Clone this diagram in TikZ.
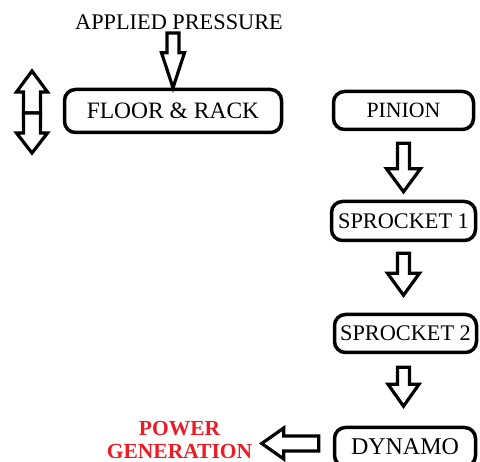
\documentclass[tikz,border=0pt]{standalone}
\usepackage{fontspec}
\setmainfont{Liberation Serif}
\usetikzlibrary{calc}
\definecolor{pwred}{RGB}{237,28,36}
\newcommand\blockarrow[5]{%
  \coordinate (ba) at (#1);
  \coordinate (bb) at (#2);
  \coordinate (bh) at ($(bb)!#5!(ba)$);
  \draw[barrow] ($(ba)!#3!90:(bb)$) -- ($(bh)!#3!90:(bb)$) -- ($(bh)!#4!90:(bb)$) -- (bb)
    -- ($(bh)!#4!-90:(bb)$) -- ($(bh)!#3!-90:(bb)$) -- ($(ba)!#3!-90:(bb)$) -- cycle;
}
\begin{document}
\begin{tikzpicture}[x=1pt,y=-1pt,
  box/.style={draw, line width=3.5pt, rounded corners=11pt, inner sep=0pt,
    text height=15pt, text depth=0pt, fill=white},
  barrow/.style={draw, line width=3.2pt, line join=miter, fill=white}]
\clip (0,0) rectangle (480,462);
\fill[white] (0,0) rectangle (480,462);
% labels
\node[anchor=base, font=\fontsize{22.3}{24}\selectfont, inner sep=0pt] (applied) at (179,30) {APPLIED PRESSURE};
\node[align=center, font=\fontsize{21.5}{22.5}\selectfont\bfseries, text=pwred, inner sep=0pt] (power) at (179.5,440) {POWER\\GENERATION};
% boxes
\node[box, minimum width=217pt, minimum height=43pt, font=\fontsize{23.5}{25}\selectfont] (floor) at (173,111) {FLOOR \& RACK};
\node[box, minimum width=140pt, minimum height=38pt, font=\fontsize{21.8}{24}\selectfont] (pinion) at (403.5,110.5) {PINION};
\node[box, minimum width=144pt, minimum height=39pt, font=\fontsize{22.3}{24}\selectfont] (spr1) at (403.5,221) {SPROCKET 1};
\node[box, minimum width=142pt, minimum height=38pt, font=\fontsize{22.3}{24}\selectfont] (spr2) at (405.5,333.5) {SPROCKET 2};
\node[box, minimum width=141pt, minimum height=39pt, font=\fontsize{24}{26}\selectfont] (dynamo) at (405,447) {DYNAMO};
% arrow end points
\coordinate (apS) at (173,33);
\coordinate (a1S) at ($(pinion.south)+(0,12)$);
\coordinate (a1E) at ($(spr1.north)+(0,-8)$);
\coordinate (a2S) at ($(spr1.south)+(0,11)$);
\coordinate (a2E) at ($(spr1.south)+(0,53)$);
\coordinate (a3S) at ($(spr2.south -| spr1.south)+(0,13)$);
\coordinate (a3E) at ($(spr2.south -| spr1.south)+(0,52)$);
\coordinate (lS) at ($(dynamo.west)+(-14,-3.5)$);
\coordinate (lE) at ($(lS)+(-57,0)$);
\coordinate (dMid) at (32,113);
\coordinate (dUp) at (32,71);
\coordinate (dDown) at (32,153);
% arrows
\blockarrow{apS}{floor.north}{6pt}{11.5pt}{35pt}
\blockarrow{a1S}{a1E}{6pt}{17pt}{23pt}
\blockarrow{a2S}{a2E}{6pt}{16pt}{22pt}
\blockarrow{a3S}{a3E}{6pt}{15.5pt}{22pt}
\blockarrow{lS}{lE}{7.5pt}{15.5pt}{22pt}
\blockarrow{dMid}{dUp}{8.5pt}{15.5pt}{21pt}
\blockarrow{dMid}{dDown}{8.5pt}{15.5pt}{20pt}
\end{tikzpicture}
\end{document}
